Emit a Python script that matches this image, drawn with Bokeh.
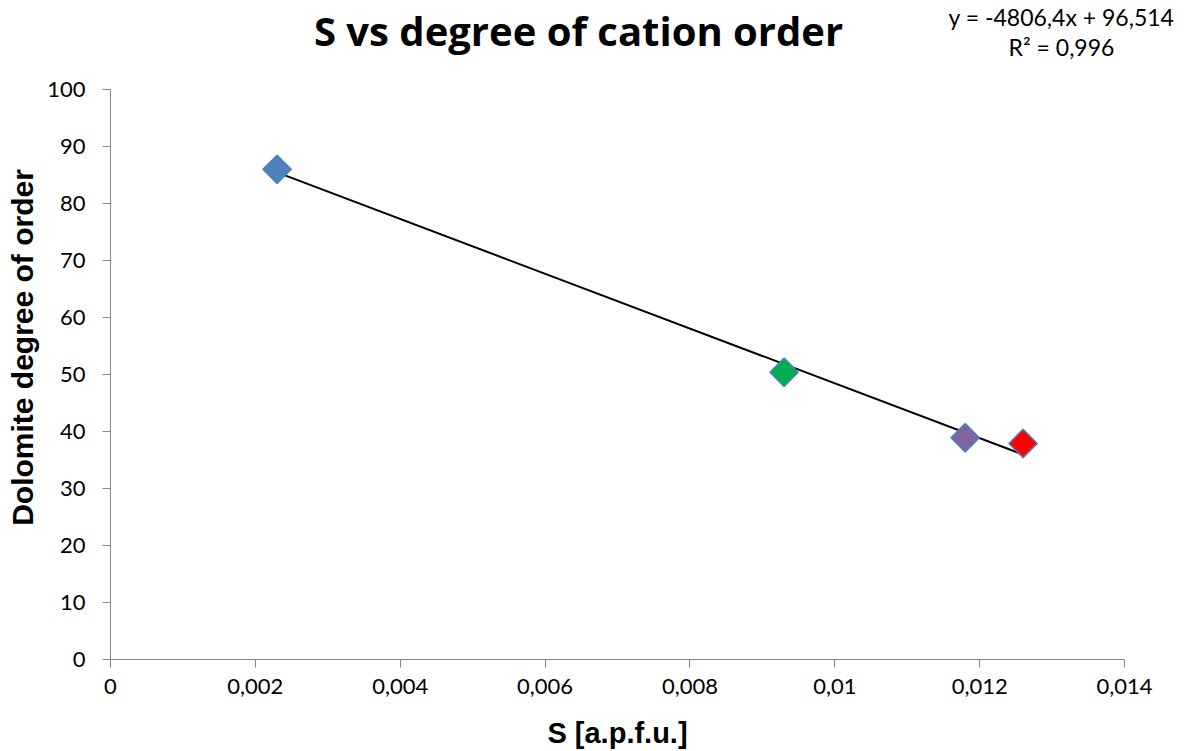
import math
from bokeh.plotting import figure
from bokeh.models import FixedTicker, Label, ColumnDataSource, LinearAxis
from bokeh.embed import file_html
from bokeh.resources import INLINE

# Sulfur content and dolomite cation ordering
s_apfu = [0.0023, 0.0093, 0.0118, 0.0126]
degree_of_order = [86.0, 50.4, 38.9, 37.9]
point_colors = ["#4F81BD", "#00B050", "#8064A2", "#FF0000"]

# Linear fit reported for the series
slope = -4806.4
intercept = 96.514
r_squared = 0.996

x_ticks = [0, 0.002, 0.004, 0.006, 0.008, 0.01, 0.012, 0.014]
x_tick_labels = ["0", "0,002", "0,004", "0,006", "0,008", "0,01", "0,012", "0,014"]
y_ticks = [0, 10, 20, 30, 40, 50, 60, 70, 80, 90, 100]
x_lim = (0, 0.014)
y_lim = (0, 100)

TICK_FONT = "Lato"
AXIS_GRAY = "#868686"

# Page geometry: the canvas is the frame, the axes sit inside it
W, H = 1186, 751
PLOT_LEFT, PLOT_RIGHT, PLOT_TOP, PLOT_BOTTOM = 110, 1124, 89, 659
sx = (PLOT_RIGHT - PLOT_LEFT) / (x_lim[1] - x_lim[0])
sy = (PLOT_BOTTOM - PLOT_TOP) / (y_lim[1] - y_lim[0])
x_range = (x_lim[0] - PLOT_LEFT / sx, x_lim[1] + (W - PLOT_RIGHT) / sx)
y_range = (y_lim[0] - (H - PLOT_BOTTOM) / sy, y_lim[1] + PLOT_TOP / sy)

p = figure(width=W, height=H, x_range=x_range, y_range=y_range,
           output_backend="svg", toolbar_location=None,
           x_axis_location=None, y_axis_location=None,
           min_border=0)
p.outline_line_color = None
p.xgrid.visible = False
p.ygrid.visible = False
p.background_fill_color = "white"
p.border_fill_color = "white"

xaxis = LinearAxis(fixed_location=y_lim[0], bounds=x_lim,
                   ticker=FixedTicker(ticks=x_ticks),
                   major_label_overrides={t: lab for t, lab in zip(x_ticks, x_tick_labels)})
yaxis = LinearAxis(fixed_location=x_lim[0], bounds=y_lim,
                   ticker=FixedTicker(ticks=y_ticks))
for ax in (xaxis, yaxis):
    ax.axis_line_color = AXIS_GRAY
    ax.major_tick_line_color = AXIS_GRAY
    ax.major_tick_in = 0
    ax.major_tick_out = 8
    ax.minor_tick_line_color = None
    ax.major_label_text_font = TICK_FONT
    ax.major_label_text_font_size = "22px"
    ax.major_label_text_color = "black"
xaxis.major_label_standoff = 11
yaxis.major_label_standoff = 17
p.add_layout(xaxis, "below")
p.add_layout(yaxis, "left")

# Trendline across the data span
fit_x = [min(s_apfu), max(s_apfu)]
fit_y = [slope * v + intercept for v in fit_x]
p.line(fit_x, fit_y, line_color="black", line_width=2)

src = ColumnDataSource(dict(x=s_apfu, y=degree_of_order, c=point_colors))
p.scatter("x", "y", source=src, marker="square", size=20, angle=math.pi / 4,
          fill_color="c", line_color="#4A7EBB", line_width=1.5)


def page_label(x, y, text, **kw):
    """Place a label at page pixel (x, y), measured from the top-left corner."""
    p.add_layout(Label(x=x, y=H - y, x_units="screen", y_units="screen",
                       text=text, text_color="black", text_baseline="middle",
                       text_align="center", **kw))


page_label(578, 30, "S vs degree of cation order", text_font="Open Sans",
           text_font_style="bold", text_font_size="40px")

eq_text = f"y = {slope:.1f}x + {intercept:.3f}".replace(".", ",")
r2_text = f"R² = {r_squared:.3f}".replace(".", ",")
page_label(1061, 16, eq_text, text_font=TICK_FONT, text_font_size="23px")
page_label(1061, 46, r2_text, text_font=TICK_FONT, text_font_size="23px")

page_label(617, 732, "S [a.p.f.u.]", text_font="Liberation Sans",
           text_font_style="bold", text_font_size="29px")
page_label(22, 347, "Dolomite degree of order", text_font="Liberation Sans",
           text_font_style="bold", text_font_size="30px", angle=math.pi / 2)

open("out.html", "w").write(file_html(p, INLINE))
